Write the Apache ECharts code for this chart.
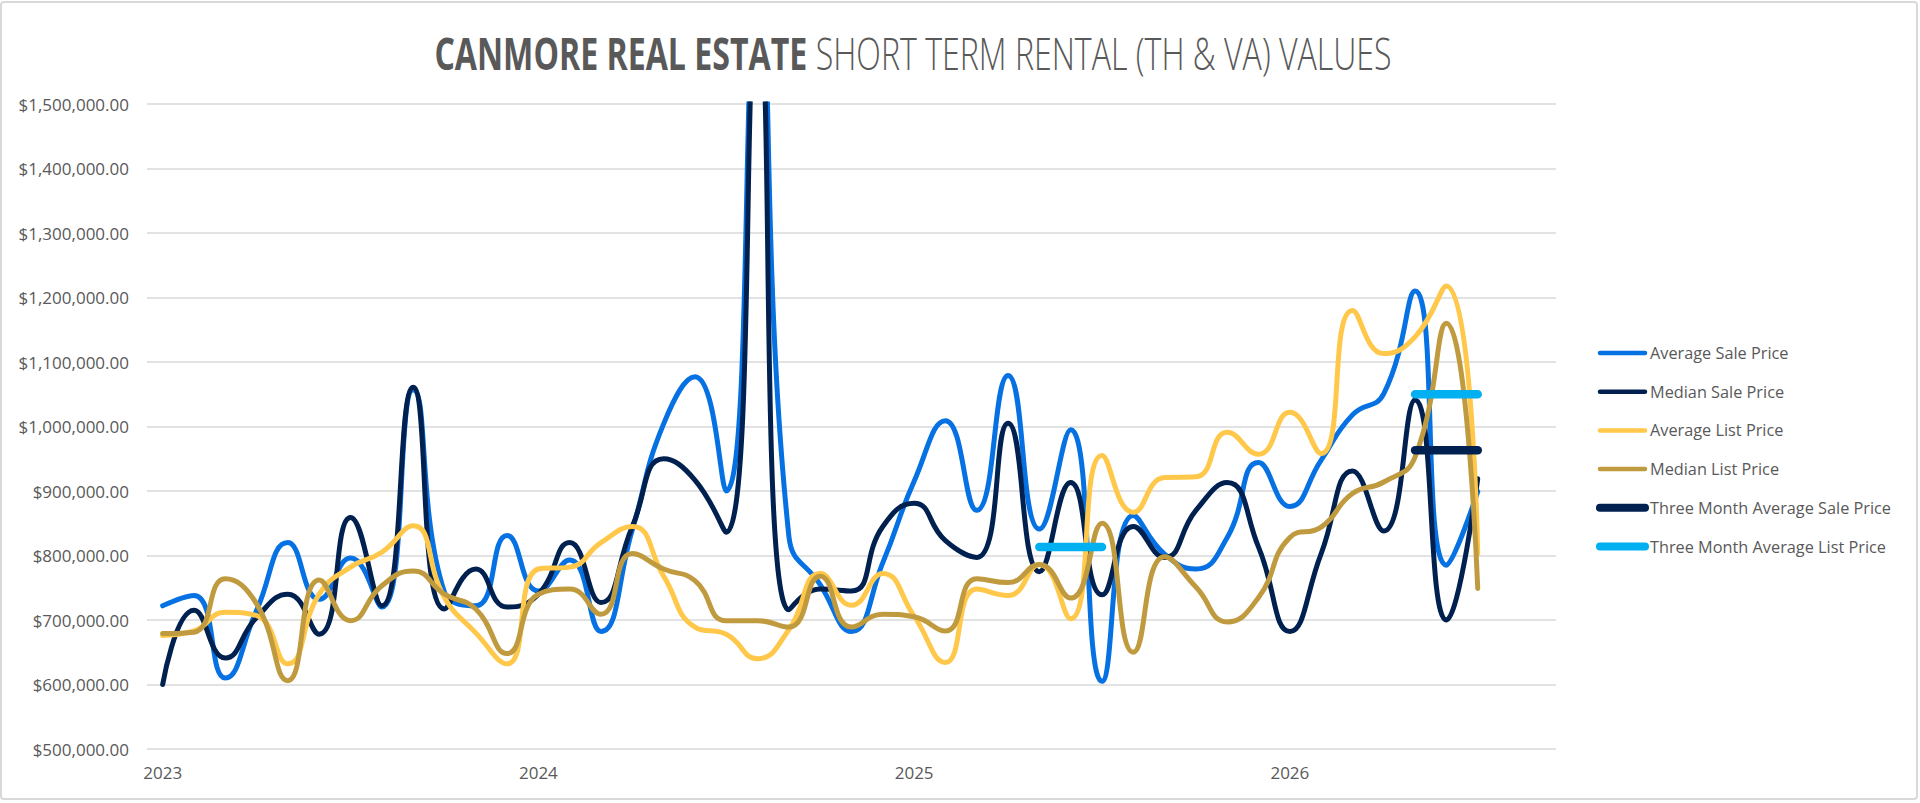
<!DOCTYPE html>
<html>
<head>
<meta charset="utf-8">
<title>Canmore Real Estate Short Term Rental (TH & VA) Values</title>
<script src="https://cdn.jsdelivr.net/npm/echarts@6/dist/echarts.min.js"></script>
<style>
    html, body { margin: 0; padding: 0; background: #ffffff; }
    #chart { width: 1920px; height: 803px; }
</style>
</head>
<body>
<div id="chart"></div>
<script>
// months on the x axis (the last two have no data yet)
const months = [
    '2023-01', '2023-02', '2023-03', '2023-04', '2023-05', '2023-06', '2023-07', '2023-08', '2023-09', '2023-10', '2023-11', '2023-12',
    '2024-01', '2024-02', '2024-03', '2024-04', '2024-05', '2024-06', '2024-07', '2024-08', '2024-09', '2024-10', '2024-11', '2024-12',
    '2025-01', '2025-02', '2025-03', '2025-04', '2025-05', '2025-06', '2025-07', '2025-08', '2025-09', '2025-10', '2025-11', '2025-12',
    '2026-01', '2026-02', '2026-03', '2026-04', '2026-05', '2026-06', '2026-07', '2026-08', '2026-09'
];

const avgSale = [
    722000, 738000, 610000, 715000, 820000, 732000, 796000, 720000, 1057000, 743000, 722000, 831000,
    745000, 793000, 682000, 840000, 1004000, 1077000, 900000, 1680000, 830000, 755000, 682000, 789000,
    915000, 1009000, 870000, 1079000, 841000, 995000, 605000, 862000, 802000, 779000, 828000, 944000,
    876000, 948000, 1018000, 1051000, 1210000, 785000, 899000
];

const medianSale = [
    600000, 715000, 641000, 704000, 740000, 678000, 859000, 722000, 1061000, 717000, 779000, 720000,
    740000, 820000, 727000, 845000, 950000, 917000, 836000, 1650000, 716000, 748000, 745000, 845000,
    881000, 823000, 797000, 1005000, 775000, 913000, 739000, 845000, 797000, 870000, 913000, 813000,
    682000, 803000, 931000, 838000, 1041000, 700000, 919000
];

const avgList = [
    676000, 683000, 712000, 707000, 632000, 740000, 782000, 805000, 846000, 735000, 680000, 632000,
    779000, 782000, 820000, 845000, 768000, 689000, 678000, 640000, 685000, 772000, 723000, 772000,
    706000, 634000, 748000, 738000, 786000, 702000, 955000, 867000, 921000, 922000, 991000, 957000,
    1022000, 958000, 1180000, 1113000, 1139000, 1218000, 803000
];

const medianList = [
    679000, 681000, 764000, 725000, 606000, 762000, 699000, 753000, 776000, 740000, 717000, 648000,
    740000, 748000, 709000, 803000, 779000, 761000, 699000, 699000, 689000, 768000, 689000, 709000,
    705000, 683000, 764000, 758000, 786000, 734000, 850000, 650000, 798000, 751000, 697000, 735000,
    828000, 844000, 896000, 914000, 953000, 1160000, 749000
];

const threeMonthSale = [
    null, null, null, null, null, null, null, null, null, null, null, null,
    null, null, null, null, null, null, null, null, null, null, null, null,
    null, null, null, null, null, null, null, null, null, null, null, null,
    null, null, null, null, 963000, 963000, 963000
];

const threeMonthList = [
    null, null, null, null, null, null, null, null, null, null, null, null,
    null, null, null, null, null, null, null, null, null, null, null, null,
    null, null, null, null, 813000, 813000, 813000, null, null, null, null, null,
    null, null, null, null, 1050000, 1050000, 1050000
];

const seriesNames = [
    'Average Sale Price', 'Median Sale Price', 'Average List Price',
    'Median List Price', 'Three Month Average Sale Price', 'Three Month Average List Price'
];
const colors = ['#0571e2', '#00214f', '#ffc84a', '#c09a3e', '#00214f', '#00b0f0'];
const lineWidths = [5, 5, 5, 5, 8.5, 8.5];

const fontFamily = "'Open Sans', sans-serif";
const textColor = '#595959';

function money(v) {
    return '$' + v.toLocaleString('en-US', { minimumFractionDigits: 2, maximumFractionDigits: 2 });
}

function lineSeries(idx, data) {
    return {
        name: seriesNames[idx],
        type: 'line',
        data: data,
        smooth: 0.5,
        symbol: 'none',
        clip: true,
        connectNulls: false,
        lineStyle: { color: colors[idx], width: lineWidths[idx], cap: 'round', join: 'round' },
        itemStyle: { color: colors[idx] }
    };
}

let myChart = echarts.init(document.getElementById('chart'), null, { renderer: 'svg' });

let option = {
    animation: false,
    backgroundColor: '#ffffff',
    color: colors,
    graphic: [
        {
            // thin frame round the whole chart
            type: 'rect',
            shape: { x: 1, y: 2, width: 1916, height: 797, r: 3 },
            style: { fill: 'none', stroke: '#d9d9d9', lineWidth: 2 },
            silent: true
        },
        {
            type: 'text',
            x: 913,
            y: 53,
            scaleX: 0.73,
            style: {
                text: '{b|CANMORE REAL ESTATE}{n| SHORT TERM RENTAL (TH & VA) VALUES}',
                align: 'center',
                verticalAlign: 'middle',
                rich: {
                    b: { fontFamily: fontFamily, fontSize: 44, fontWeight: 'bold', fill: textColor },
                    n: { fontFamily: fontFamily, fontSize: 44, fontWeight: 300, fill: textColor }
                }
            },
            silent: true
        }
    ],
    grid: {
        left: 147,
        right: 364,
        top: 104,
        bottom: 54
    },
    legend: {
        orient: 'vertical',
        left: 1591,
        top: 340,
        itemWidth: 45,
        itemHeight: 14,
        itemGap: 22.7,
        // hide the marker dot, keep only the line
        itemStyle: { opacity: 0 },
        data: seriesNames.map(function (name, i) {
            return { name: name, lineStyle: { width: lineWidths[i] - 0.5, cap: 'round' } };
        }),
        textStyle: { color: textColor, fontSize: 16.3, fontFamily: fontFamily }
    },
    xAxis: {
        type: 'category',
        boundaryGap: true,
        data: months,
        axisLine: { show: false },
        axisTick: { show: false },
        splitLine: { show: false },
        axisLabel: {
            interval: function (index) { return index % 12 === 0; },
            formatter: function (value) { return value.slice(0, 4); },
            color: textColor,
            fontSize: 17,
            fontFamily: fontFamily,
            margin: 15
        }
    },
    yAxis: {
        type: 'value',
        min: 500000,
        max: 1500000,
        interval: 100000,
        axisLine: { show: false },
        axisTick: { show: false },
        splitLine: { show: true, lineStyle: { color: '#d9d9d9', width: 1.5 } },
        axisLabel: {
            formatter: money,
            color: textColor,
            fontSize: 17,
            fontFamily: fontFamily,
            margin: 18
        }
    },
    series: seriesNames.map(function (name, i) {
        return lineSeries(i, [avgSale, medianSale, avgList, medianList, threeMonthSale, threeMonthList][i]);
    })
};

myChart.setOption(option);
</script>
</body>
</html>
